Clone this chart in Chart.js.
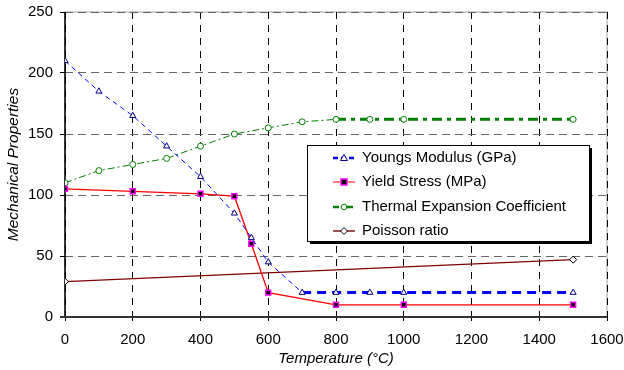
<!DOCTYPE html>
<html><head><meta charset="utf-8">
<script src="https://cdn.jsdelivr.net/npm/chart.js@4/dist/chart.umd.min.js"></script>
<style>html,body{margin:0;padding:0;background:#fff}#w{width:624px;height:370px}</style>
</head><body><div id="w"><canvas id="c" width="624" height="370"></canvas></div>
<script>
const seriesNames = ["Youngs Modulus (GPa)", "Yield Stress (MPa)", "Thermal Expansion Coefficient", "Poisson ratio"];
const youngsT = [0, 100, 200, 300, 400, 500, 550, 600, 700, 800, 900, 1000, 1500];
const youngsV = [210, 185, 165, 140, 115, 85, 65, 45, 20, 20, 20, 20, 20];
const yieldT = [0, 200, 400, 500, 550, 600, 800, 1000, 1500];
const yieldV = [105, 103, 101, 99, 60, 20, 10, 10, 10];
const thermT = [0, 100, 200, 300, 400, 500, 600, 700, 800, 900, 1000, 1500];
const thermV = [110, 120, 125, 130, 140, 150, 155, 160, 162, 162, 162, 162];
const poisT = [0, 1500];
const poisV = [29, 47];
const xTicks = [0, 200, 400, 600, 800, 1000, 1200, 1400, 1600];
const yTicks = [0, 50, 100, 150, 200, 250];

const pts = (xs, ys) => xs.map((x, i) => ({x: x, y: ys[i]}));
const FONT = "'Liberation Sans', Arial, sans-serif";

const styles = [
  {line:'#0000FF', w:2.5, marker:'triangle', mFill:'#fff', mStroke:'#000080'},
  {line:'#FF8080', w:2, marker:'rect', mFill:'#000', mStroke:'#FF00FF'},
  {line:'#008000', w:2.5, marker:'circle', mFill:'#fff', mStroke:'#008000'},
  {line:'#A05050', w:2, marker:'rectRot', mFill:'#fff', mStroke:'#000'}
];

function drawMarker(ctx, type, x, y, fill, stroke) {
  ctx.save();
  ctx.setLineDash([]);
  ctx.fillStyle = fill; ctx.strokeStyle = stroke; ctx.lineWidth = 1;
  ctx.beginPath();
  if (type === 'triangle') { ctx.moveTo(x, y-3.5); ctx.lineTo(x+3.5, y+2.5); ctx.lineTo(x-3.5, y+2.5); ctx.closePath(); }
  else if (type === 'rect') { ctx.rect(x-3, y-3, 6, 6); ctx.lineWidth = 1.5; }
  else if (type === 'circle') { ctx.arc(x, y, 2.8, 0, Math.PI*2); }
  else { ctx.moveTo(x, y-3.5); ctx.lineTo(x+3.5, y); ctx.lineTo(x, y+3.5); ctx.lineTo(x-3.5, y); ctx.closePath(); }
  ctx.fill(); ctx.stroke();
  ctx.restore();
}

const legendPlugin = {
  id: 'boxLegend',
  afterDraw(chart) {
    const ctx = chart.ctx;
    const L = 307, T = 145, R = 589, B = 241;
    ctx.save();
    ctx.fillStyle = '#000';
    ctx.fillRect(L + 3, T + 3, R - L, B - T);
    ctx.fillStyle = '#fff';
    ctx.fillRect(L, T, R - L, B - T);
    ctx.strokeStyle = '#000'; ctx.lineWidth = 1;
    ctx.strokeRect(L + 0.5, T + 0.5, R - L, B - T);
    const rows = [158, 182, 207, 231];
    seriesNames.forEach((name, i) => {
      const s = styles[i]; const y = rows[i];
      ctx.strokeStyle = s.line; ctx.lineWidth = s.w;
      ctx.setLineDash(i === 0 ? [5,3] : (i === 2 ? [6,3,2,3] : []));
      ctx.beginPath(); ctx.moveTo(333, y); ctx.lineTo(355, y); ctx.stroke();
      drawMarker(ctx, s.marker, 344, y, s.mFill, s.mStroke);
      ctx.setLineDash([]);
      ctx.fillStyle = '#000';
      ctx.font = '15px ' + FONT;
      ctx.textBaseline = 'middle'; ctx.textAlign = 'left';
      ctx.fillText(name, 362, y);
    });
    ctx.restore();
  }
};

const framePlugin = {
  id: 'frame',
  beforeDraw(chart) {
    const a = chart.chartArea, ctx = chart.ctx;
    ctx.save();
    ctx.strokeStyle = '#c0c0c0'; ctx.lineWidth = 1.5;
    ctx.strokeRect(a.left, a.top, a.right - a.left, a.bottom - a.top);
    ctx.restore();
  },
  beforeDatasetsDraw(chart) {
    const a = chart.chartArea, ctx = chart.ctx;
    ctx.save();
    ctx.setLineDash([]);
    ctx.strokeStyle = '#000'; ctx.lineWidth = 1.5;
    ctx.beginPath(); ctx.moveTo(a.left, a.top); ctx.lineTo(a.left, a.bottom); ctx.stroke();
    ctx.strokeStyle = '#333'; ctx.lineWidth = 2;
    ctx.beginPath(); ctx.moveTo(a.left - 5, a.bottom); ctx.lineTo(a.right, a.bottom); ctx.stroke();
    ctx.restore();
  }
};

new Chart(document.getElementById('c'), {
  type: 'line',
  data: {
    datasets: [
      {label: seriesNames[0], data: pts(youngsT, youngsV), borderColor: '#0000FF', borderWidth: 1, borderDash: [5,4],
       segment: {borderWidth: c => c.p0.parsed.x >= 700 ? 3 : 1, borderDash: c => c.p0.parsed.x >= 700 ? [9,6] : [5,4]},
       pointStyle: 'triangle', pointRadius: 3.5, pointBackgroundColor: '#fff', pointBorderColor: '#000080', pointBorderWidth: 1, tension: 0},
      {label: seriesNames[1], data: pts(yieldT, yieldV), borderColor: '#FF0000', borderWidth: 1.3,
       pointStyle: 'rect', pointRadius: 3.5, pointBackgroundColor: '#000', pointBorderColor: '#FF00FF', pointBorderWidth: 1.5, tension: 0},
      {label: seriesNames[2], data: pts(thermT, thermV), borderColor: '#008000', borderWidth: 1, borderDash: [7,3,2,3],
       segment: {borderWidth: c => c.p0.parsed.x >= 800 ? 3 : 1, borderDash: c => c.p0.parsed.x >= 800 ? [10,5,4,5] : [7,3,2,3]},
       pointStyle: 'circle', pointRadius: 3, pointBackgroundColor: '#fff', pointBorderColor: '#008000', pointBorderWidth: 1, tension: 0},
      {label: seriesNames[3], data: pts(poisT, poisV), borderColor: '#800000', borderWidth: 1.3,
       pointStyle: 'rectRot', pointRadius: 3.5, pointBackgroundColor: '#fff', pointBorderColor: '#000', pointBorderWidth: 1, tension: 0}
    ]
  },
  options: {
    responsive: false, animation: false,
    layout: {padding: {left: 0, right: 17, top: 12, bottom: 0}},
    plugins: {legend: {display: false}, tooltip: {enabled: false}},
    scales: {
      x: {
        type: 'linear', min: 0, max: 1600,
        afterBuildTicks: ax => { ax.ticks = xTicks.map(v => ({value: v})); },
        afterFit: ax => { ax.height = 53; ax.paddingLeft = 0; ax.paddingRight = 0; },
        ticks: {color: '#000', font: {family: FONT, size: 15}, padding: 10, maxRotation: 0, callback: v => String(v)},
        grid: {color: '#000', lineWidth: 1, drawTicks: true, tickLength: 4, tickColor: '#000', tickBorderDash: []},
        border: {display: false, dash: [7,6]},
        title: {display: true, text: 'Temperature (°C)', color: '#000', font: {family: FONT, size: 15, style: 'italic'}, padding: {top: 0, bottom: 2}}
      },
      y: {
        type: 'linear', min: 0, max: 250,
        afterBuildTicks: ax => { ax.ticks = yTicks.map(v => ({value: v})); },
        afterFit: ax => { ax.width = 65; ax.paddingTop = 0; ax.paddingBottom = 0; },
        ticks: {color: '#000', font: {family: FONT, size: 15}, padding: 7, callback: v => String(v)},
        grid: {color: '#666', lineWidth: 1, drawTicks: true, tickLength: 5, tickColor: '#000', tickBorderDash: []},
        border: {display: false, dash: [8,5]},
        title: {display: true, text: 'Mechanical Properties', color: '#000', font: {family: FONT, size: 15.5, style: 'italic'}, padding: {top: 4, bottom: 0}}
      }
    }
  },
  plugins: [framePlugin, legendPlugin]
});
</script>
</body></html>
